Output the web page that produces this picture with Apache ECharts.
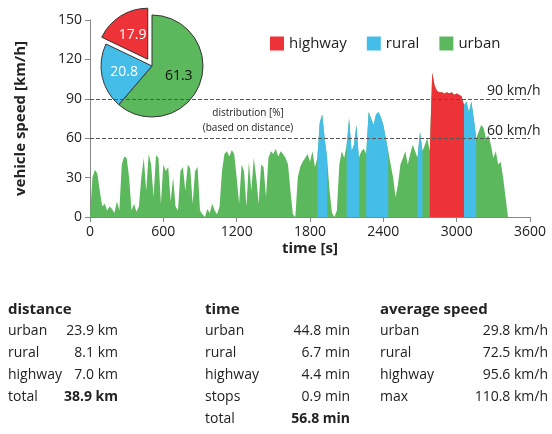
<!DOCTYPE html>
<html><head><meta charset="utf-8">
<script src="https://cdn.jsdelivr.net/npm/echarts@6/dist/echarts.min.js"></script>
<style>html,body{margin:0;padding:0;background:#fff}#c{width:552px;height:434px}</style>
</head><body><div id="c"></div>
<script>
// speed profile, one sample every 20 s from t = 0
var step = 20;
var speed = [0,30,36,33,20,8,10,5,8,6,3,12,5,40,46,45,30,5,10,4,8,30,45,20,48,40,15,47,45,10,
  40,35,38,12,30,8,5,35,38,20,40,37,10,35,38,5,2,0,6,3,10,5,2,8,35,48,50,46,51,48,
  30,10,40,35,8,42,20,45,30,10,40,38,15,45,50,48,52,46,50,48,45,40,20,2,0,30,38,42,45,48,
  42,50,38,45,72,78,60,45,20,3,0,5,40,50,45,55,75,50,55,70,45,50,52,48,80,75,70,78,80,76,
  70,60,50,40,30,15,25,40,45,50,40,48,55,50,45,65,50,55,60,50,110,100,96,95,95,94,95,94,95,93,
  94,93,92,85,88,80,88,75,60,65,70,68,60,62,55,45,50,40,42,30,15,0];
var ruralRanges = [[1870,1925],[2110,2130],[2170,2190],[2270,2430],[2690,2710],[3045,3150]];
var highwayRanges = [[2790,3045]];
var pieNames = ['urban','rural','highway'];
var pieValues = [61.3,20.8,17.9];
var colors = {urban:'#5cb85c', rural:'#44bde8', highway:'#ee3338'};

function inR(t, rs){ return rs.some(function(r){return t>=r[0]&&t<=r[1];}); }
function build(rs){
  return speed.map(function(v,i){
    var t=i*step, ok=inR(t,rs)||inR(t-step,rs)||inR(t+step,rs);
    return [t, ok? v : '-'];
  });
}
var urbanData = speed.map(function(v,i){return [i*step,v];});
function area(name,data){
  return {type:'line',name:name,data:data,symbol:'none',lineStyle:{width:0},
    itemStyle:{color:colors[name]},areaStyle:{color:colors[name],opacity:1},connectNulls:false};
}
var font = 'Open Sans, Liberation Sans, sans-serif';
function txt(x,y,s,opt){
  opt=opt||{};
  return {type:'text',x:x,y:y,style:{text:s,font:(opt.bold?'bold ':'')+(opt.size||14)+'px '+font,
    fill:'#222',textAlign:opt.align||'left',textVerticalAlign:'middle'}};
}
var g = [];
// table
var rowsY=[331,353,375,397,419];
g.push(txt(8,310,'distance',{bold:true,size:15}),txt(205,310,'time',{bold:true,size:15}),txt(380,310,'average speed',{bold:true,size:15}));
[['urban','23.9 km'],['rural','8.1 km'],['highway','7.0 km'],['total','38.9 km',1]].forEach(function(r,i){
  g.push(txt(8,rowsY[i],r[0]),txt(118,rowsY[i],r[1],{align:'right',bold:r[2]}));
});
[['urban','44.8 min'],['rural','6.7 min'],['highway','4.4 min'],['stops','0.9 min'],['total','56.8 min',1]].forEach(function(r,i){
  g.push(txt(205,rowsY[i],r[0]),txt(350,rowsY[i],r[1],{align:'right',bold:r[2]}));
});
[['urban','29.8 km/h'],['rural','72.5 km/h'],['highway','95.6 km/h'],['max','110.8 km/h']].forEach(function(r,i){
  g.push(txt(380,rowsY[i],r[0]),txt(548,rowsY[i],r[1],{align:'right'}));
});
g.push(txt(487,91,'90 km/h'),txt(487,131,'60 km/h'));
g.push(txt(248,113,'distribution [%]',{size:10,align:'center'}),txt(248,128,'(based on distance)',{size:10,align:'center'}));

var chart = echarts.init(document.getElementById('c'));
chart.setOption({
  animation:false,
  textStyle:{fontFamily:font},
  grid:{left:90,right:22,top:20,bottom:217},
  legend:{top:31,left:265,itemGap:20,itemWidth:14,itemHeight:14,icon:'rect',
    textStyle:{fontSize:15,color:'#222'},data:['highway','rural','urban']},
  xAxis:{type:'value',min:0,max:3600,interval:600,
    name:'time [s]',nameLocation:'middle',nameGap:24,nameTextStyle:{fontWeight:'bold',fontSize:15,color:'#222'},
    axisLine:{lineStyle:{color:'#888'}},axisTick:{show:true},
    axisLabel:{color:'#222',fontSize:14,formatter:function(v){return String(v);}},splitLine:{show:false}},
  yAxis:{type:'value',min:0,max:150,interval:30,
    name:'vehicle speed [km/h]',nameLocation:'middle',nameGap:62,nameTextStyle:{fontWeight:'bold',fontSize:15,color:'#222'},
    axisLine:{show:true,lineStyle:{color:'#888'}},axisTick:{show:true},
    axisLabel:{color:'#222',fontSize:14},splitLine:{show:false}},
  series:[
    area('urban',urbanData),
    area('rural',build(ruralRanges)),
    Object.assign(area('highway',build(highwayRanges)),{
      markLine:{silent:true,symbol:'none',label:{show:false},
        lineStyle:{color:'#555',type:'dashed',width:1},data:[{yAxis:60},{yAxis:90}]}}),
    {type:'pie',center:[152,66],radius:[0,51],startAngle:90,clockwise:true,
      selectedMode:'single',selectedOffset:8,label:{position:'inside',fontSize:14,color:'#fff',formatter:'{c}'},
      itemStyle:{borderColor:'#333',borderWidth:1},
      data:pieNames.map(function(n,i){return {name:n,value:pieValues[i],selected:n==='highway',
        itemStyle:{color:colors[n]},label:n==='urban'?{color:'#111'}:{}};})}
  ],
  graphic:g
});
</script></body></html>
